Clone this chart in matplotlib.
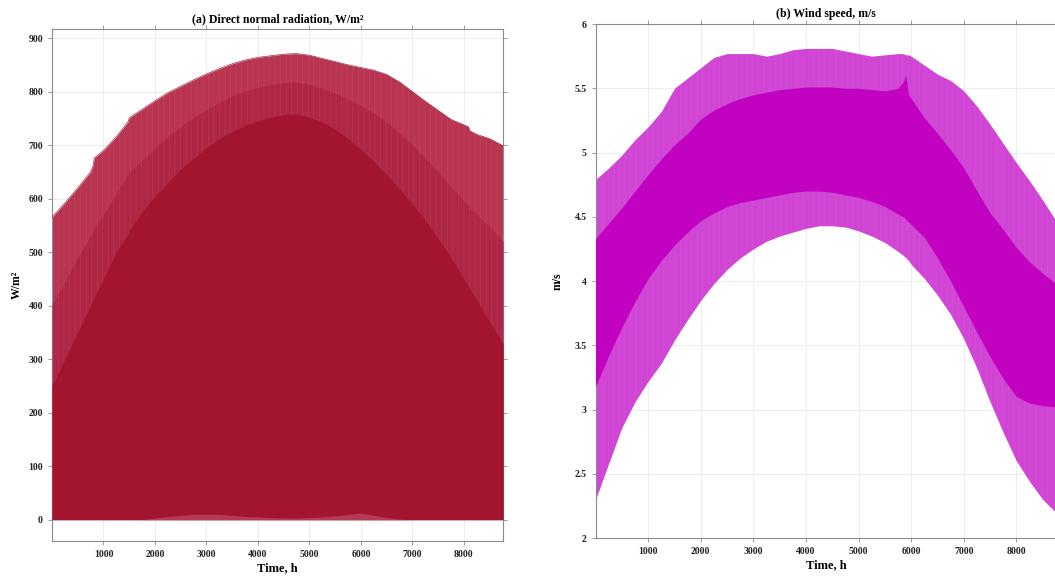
import numpy as np
import matplotlib
matplotlib.use("Agg")
import matplotlib.pyplot as plt

# ---------------- data ----------------
# Direct normal radiation, W/m2 (hourly envelope bands over the year)
hours_dnr = [0, 250, 500, 750, 800, 820, 1000, 1250, 1480, 1500, 1750, 2000, 2250,
             2500, 2750, 3000, 3250, 3500, 3750, 4000, 4250, 4500, 4750, 5000,
             5250, 5500, 5750, 6000, 6250, 6500, 6750, 7000, 7250, 7500, 7750,
             8000, 8090, 8110, 8250, 8500, 8760]
dnr_max = [565, 592, 620, 650, 662, 676, 690, 716, 744, 751, 767, 783, 798,
           810, 822, 833, 843, 852, 859, 864, 867, 870, 871, 868,
           862, 856, 850, 845, 840, 832, 818, 800, 782, 765, 748,
           738, 734, 727, 720, 712, 699]
dnr_p90 = [400, 445, 490, 530, 540, 546, 570, 610, 645, 650, 672, 695, 716,
           735, 752, 766, 780, 792, 801, 808, 813, 816, 818, 814,
           806, 797, 786, 774, 760, 743, 722, 700, 676, 650, 622,
           595, 588, 582, 570, 548, 520]
dnr_p75 = [250, 300, 350, 400, 410, 415, 450, 500, 535, 540, 575, 605, 630,
           655, 675, 695, 712, 725, 737, 745, 752, 757, 758, 752,
           742, 730, 712, 692, 670, 645, 618, 590, 560, 525, 490,
           450, 436, 432, 410, 370, 330]
dnr_low = [0, 0, 0, 0, 0, 0, 0, 0, 0, 0, 0, 3, 6,
           8, 10, 10, 10, 8, 6, 5, 4, 3, 3, 4,
           5, 7, 10, 12, 8, 4, 1, 0, 0, 0, 0,
           0, 0, 0, 0, 0, 0]

# Wind speed, m/s (hourly envelope bands over the year)
hours_wind = [0, 250, 500, 750, 1000, 1250, 1500, 1750, 2000, 2250, 2500, 2750,
              3000, 3250, 3500, 3750, 4000, 4250, 4500, 4750, 5000, 5250, 5500,
              5750, 5850, 5900, 5950, 6000, 6250, 6500, 6750, 7000, 7250, 7500,
              7750, 8000, 8250, 8500, 8750, 8760]
wind_max = [4.79, 4.88, 4.98, 5.10, 5.20, 5.32, 5.50, 5.58, 5.66, 5.74, 5.77, 5.77,
            5.77, 5.75, 5.77, 5.80, 5.81, 5.81, 5.81, 5.79, 5.77, 5.75, 5.76,
            5.77, 5.77, 5.76, 5.76, 5.75, 5.68, 5.61, 5.56, 5.48, 5.36, 5.22,
            5.07, 4.92, 4.78, 4.63, 4.47, 4.47]
wind_hi = [4.33, 4.45, 4.57, 4.70, 4.83, 4.95, 5.06, 5.15, 5.26, 5.33, 5.38, 5.42,
           5.45, 5.47, 5.49, 5.50, 5.51, 5.51, 5.51, 5.50, 5.50, 5.49, 5.48,
           5.50, 5.55, 5.60, 5.45, 5.42, 5.27, 5.15, 5.02, 4.88, 4.70, 4.53,
           4.40, 4.26, 4.15, 4.06, 3.98, 3.98]
wind_lo = [3.18, 3.42, 3.64, 3.84, 4.02, 4.16, 4.28, 4.38, 4.47, 4.53, 4.58, 4.61,
           4.63, 4.65, 4.67, 4.69, 4.70, 4.70, 4.69, 4.67, 4.65, 4.62, 4.58,
           4.52, 4.50, 4.48, 4.46, 4.44, 4.34, 4.18, 4.00, 3.80, 3.60, 3.41,
           3.24, 3.10, 3.05, 3.03, 3.02, 3.02]
wind_min = [2.30, 2.58, 2.86, 3.06, 3.22, 3.36, 3.54, 3.70, 3.85, 3.98, 4.09, 4.18,
            4.25, 4.31, 4.35, 4.38, 4.41, 4.43, 4.43, 4.42, 4.39, 4.35, 4.30,
            4.23, 4.20, 4.18, 4.16, 4.13, 4.02, 3.89, 3.74, 3.55, 3.32, 3.06,
            2.82, 2.60, 2.44, 2.30, 2.20, 2.20]

xticks = [1000, 2000, 3000, 4000, 5000, 6000, 7000, 8000]
dnr_yticks = [0, 100, 200, 300, 400, 500, 600, 700, 800, 900]
wind_yticks = [2, 2.5, 3, 3.5, 4, 4.5, 5, 5.5, 6]
wind_yticklabels = ["2", "2.5", "3", "3.5", "4", "4.5", "5", "5.5", "6"]

# ---------------- style ----------------
plt.rcParams["font.family"] = ["Liberation Serif", "DejaVu Serif"]
plt.rcParams["font.weight"] = "bold"
plt.rcParams["hatch.linewidth"] = 0.6

fig = plt.figure(figsize=(10.55, 5.79), dpi=100)
ax1 = fig.add_axes([0.0493, 0.0656, 0.4275, 0.8843])
ax2 = fig.add_axes([0.5645, 0.0708, 0.4368, 0.8877])


def style_axes(ax):
    ax.set_axisbelow(True)
    ax.grid(True, color="#e9e9e9", lw=0.6)
    for s in ax.spines.values():
        s.set_color("#8a8a8a")
        s.set_linewidth(0.8)
    ax.tick_params(direction="out", length=3, width=0.6, colors="#8a8a8a",
                   labelcolor="#222222", labelsize=7, top=True, right=True)
    for lab in ax.get_xticklabels() + ax.get_yticklabels():
        lab.set_fontweight("bold")


# (a) direct normal radiation
t = np.array(hours_dnr)
ax1.fill_between(t, 0, dnr_max, color="#b8344f", lw=0, zorder=2)
ax1.fill_between(t, 0, dnr_p90, color="#ae2643", lw=0, zorder=3)
ax1.fill_between(t, 0, dnr_p75, color="#a3142f", lw=0, zorder=4)
# fine hourly striping inside the upper band
ax1.fill_between(t, dnr_p75, dnr_max, facecolor="none", lw=0, hatch="|||",
                 edgecolor=(1, 1, 1, 0.07), zorder=5)
ax1.fill_between(t, 0, dnr_low, color="#b43a55", lw=0, zorder=5)
ax1.plot(t, dnr_max, color="#a02a44", lw=0.5, zorder=6)
ax1.set_xlim(0, 8760)
ax1.set_ylim(-40, 917)
ax1.set_xticks(xticks)
ax1.set_yticks(dnr_yticks)
style_axes(ax1)
ax1.set_title("(a) Direct normal radiation, W/m²", fontsize=8.5,
              fontweight="bold", pad=5)
ax1.set_xlabel("Time, h", fontsize=9, fontweight="bold", labelpad=2)
ax1.set_ylabel("W/m²", fontsize=8.5, fontweight="bold", labelpad=4)

# (b) wind speed
tw = np.array(hours_wind)
ax2.fill_between(tw, wind_min, wind_max, color="#d145d5", lw=0, zorder=2)
ax2.fill_between(tw, wind_min, wind_max, facecolor="none", lw=0, hatch="|||",
                 edgecolor=(1, 1, 1, 0.06), zorder=3)
ax2.fill_between(tw, wind_lo, wind_hi, color="#c103c1", lw=0, zorder=4)
ax2.set_xlim(0, 8760)
ax2.set_ylim(2, 6)
ax2.set_xticks(xticks)
ax2.set_yticks(wind_yticks)
ax2.set_yticklabels(wind_yticklabels)
style_axes(ax2)
ax2.set_title("(b) Wind speed, m/s", fontsize=8.5, fontweight="bold", pad=5)
ax2.set_xlabel("Time, h", fontsize=9, fontweight="bold", labelpad=2)
ax2.set_ylabel("m/s", fontsize=8.5, fontweight="bold", labelpad=8)

fig.savefig("out.png", dpi=100)
